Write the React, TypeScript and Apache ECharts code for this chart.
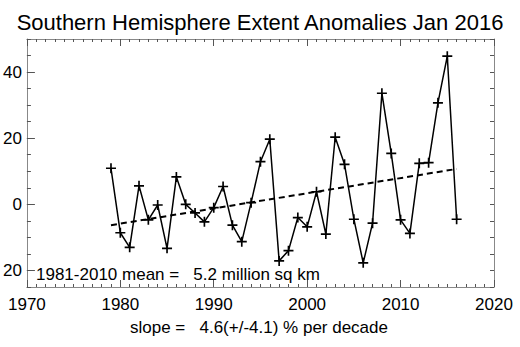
import React, { useEffect, useRef } from "react";
import * as echarts from "echarts";

const years = [1979,1980,1981,1982,1983,1984,1985,1986,1987,1988,1989,1990,1991,1992,1993,1994,1995,1996,1997,1998,1999,2000,2001,2002,2003,2004,2005,2006,2007,2008,2009,2010,2011,2012,2013,2014,2015,2016];
const anomalies = [10.9,-8.6,-13.0,5.6,-4.7,-0.2,-13.3,8.3,0.0,-2.6,-5.3,-1.0,5.4,-6.3,-11.3,0.5,12.9,19.7,-17.1,-14.0,-4.0,-6.8,3.8,-9.0,20.3,12.1,-4.5,-17.7,-5.7,33.6,15.4,-4.7,-8.8,12.4,12.6,30.7,44.8,-4.5];
const trendYears = [1979, 2016];
const trendValues = [-6.3, 10.7];
const xTickLabels = ["1970","1980","1990","2000","2010","2020"];
const yMajorTicks = [-20, 0, 20, 40];
const titleText = "Southern Hemisphere Extent Anomalies Jan 2016";
const meanText = "1981-2010 mean =   5.2 million sq km";
const slopeText = "slope =   4.6(+/-4.1) % per decade";

const FONT = "'Liberation Sans', Arial, Helvetica, sans-serif";
const PLUS = "path://M3.75,0H5.25V3.75H9V5.25H5.25V9H3.75V5.25H0V3.75H3.75Z";

export default function App() {
  const ref = useRef<HTMLDivElement>(null);
  useEffect(() => {
    if (!ref.current) return;
    const chart = echarts.init(ref.current, undefined, { renderer: "svg" });
    const axisLineStyle = { color: "#888", width: 1 };
    const tickStyle = { color: "#555", width: 1 };
    chart.setOption({
      animation: false,
      backgroundColor: "#fff",
      textStyle: { fontFamily: FONT },
      grid: { left: 25, right: 26, top: 39, bottom: 60, containLabel: false },
      xAxis: [
        {
          type: "value", position: "bottom", min: 1970, max: 2020, interval: 10,
          axisLine: { show: true, onZero: false, lineStyle: axisLineStyle },
          axisTick: { show: true, inside: true, length: 7, lineStyle: tickStyle },
          minorTick: { show: true, splitNumber: 10, length: 3, lineStyle: tickStyle },
          splitLine: { show: false },
          axisLabel: {
            show: true, margin: 9, color: "#000", fontSize: 17, fontFamily: FONT,
            formatter: (v: number) => xTickLabels.includes(String(v)) ? String(v) : "",
          },
        },
        {
          type: "value", position: "top", min: 1970, max: 2020, interval: 10,
          axisLine: { show: true, onZero: false, lineStyle: axisLineStyle },
          axisTick: { show: true, inside: true, length: 7, lineStyle: tickStyle },
          minorTick: { show: true, splitNumber: 10, length: 3, lineStyle: tickStyle },
          splitLine: { show: false },
          axisLabel: { show: false },
        },
      ],
      yAxis: [
        {
          type: "value", position: "left", min: -25, max: 50, interval: 5,
          axisLine: { show: true, onZero: false, lineStyle: axisLineStyle },
          axisTick: { show: true, inside: true, length: 4, lineStyle: tickStyle },
          splitLine: { show: false },
          axisLabel: {
            show: true, margin: 5, color: "#000", fontSize: 17, fontFamily: FONT,
            formatter: (v: number) => yMajorTicks.includes(v) ? String(Math.abs(v)) : "",
          },
        },
        {
          type: "value", position: "right", min: -25, max: 50, interval: 5,
          axisLine: { show: true, onZero: false, lineStyle: axisLineStyle },
          axisTick: { show: true, inside: true, length: 4, lineStyle: tickStyle },
          splitLine: { show: false },
          axisLabel: { show: false },
        },
        {
          type: "value", position: "left", min: -25, max: 50,
          axisLine: { show: false },
          axisTick: { show: true, inside: true, length: 8, lineStyle: tickStyle, customValues: yMajorTicks },
          splitLine: { show: false },
          axisLabel: { show: false },
        },
      ],
      series: [
        {
          type: "line",
          xAxisIndex: 0, yAxisIndex: 0,
          data: trendYears.map((y, i) => [y, trendValues[i]]),
          showSymbol: false, symbol: "none",
          lineStyle: { color: "#000", width: 2, type: [6, 4] },
          silent: true,
        },
        {
          type: "line",
          xAxisIndex: 0, yAxisIndex: 0,
          data: years.map((y, i) => [y, anomalies[i]]),
          symbol: PLUS, symbolSize: 10, showAllSymbol: true,
          itemStyle: { color: "#000" },
          lineStyle: { color: "#000", width: 1.5 },
          silent: true,
        },
      ],
      graphic: [
        {
          type: "text", x: 260, y: 22,
          style: { text: titleText, fill: "#000", font: `22px ${FONT}`, align: "center", verticalAlign: "middle" },
        },
        {
          type: "text", x: 36, y: 274,
          style: { text: meanText, fill: "#000", font: `17px ${FONT}`, align: "left", verticalAlign: "middle" },
        },
        {
          type: "text", x: 259, y: 327,
          style: { text: slopeText, fill: "#000", font: `17px ${FONT}`, align: "center", verticalAlign: "middle" },
        },
      ],
    });
    return () => chart.dispose();
  }, []);
  return <div ref={ref} style={{ width: 520, height: 347, position: "absolute", left: 0, top: 0 }} />;
}
